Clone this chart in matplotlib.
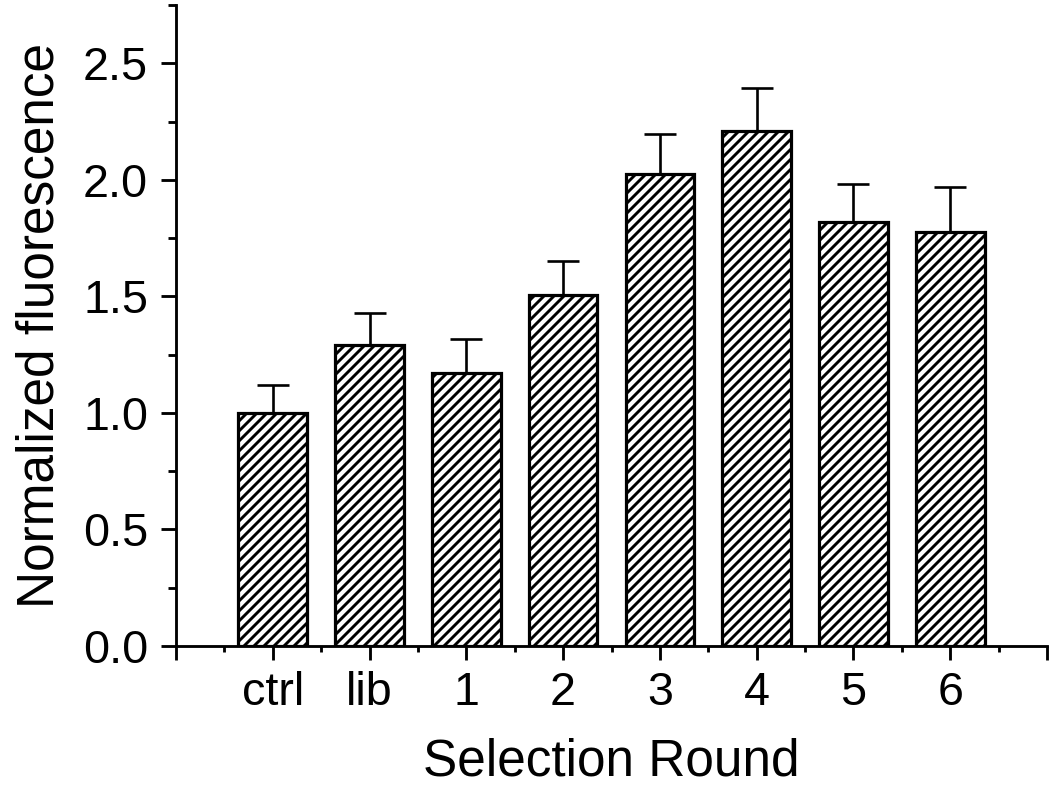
import matplotlib
matplotlib.use("Agg")
import matplotlib.pyplot as plt
from matplotlib.ticker import FixedLocator

categories = ["ctrl", "lib", "1", "2", "3", "4", "5", "6"]
values = [1.00, 1.29, 1.17, 1.505, 2.025, 2.21, 1.82, 1.775]
errors = [0.12, 0.14, 0.145, 0.145, 0.17, 0.185, 0.16, 0.195]

DPI = 90
S = 100.0 / DPI  # keep pixel sizes equal to a 100-dpi layout
plt.rcParams['font.family'] = ['Liberation Sans', 'DejaVu Sans']
plt.rcParams['hatch.linewidth'] = 2.1 * S

fig = plt.figure(figsize=(1050/DPI, 794/DPI), dpi=DPI)
ax = fig.add_axes([176/1050, 1-646/794, (1047-176)/1050, (646-5)/794])

x = list(range(1, len(categories)+1))
ax.bar(x, values, width=0.71, color='white', edgecolor='black', linewidth=2.3*S,
       hatch='///', zorder=2)
ax.errorbar(x, values, yerr=[[0]*len(errors), errors], fmt='none', ecolor='black',
            elinewidth=1.9*S, capsize=11.5*S, capthick=1.9*S, zorder=1)

ax.set_xlim(0, 9)
ax.set_ylim(0, 2.75)
ax.xaxis.set_major_locator(FixedLocator(list(range(0, 10))))
ax.set_xticklabels([""] + categories + [""])
ax.xaxis.set_minor_locator(FixedLocator([i + 0.5 for i in range(9)]))
ax.yaxis.set_major_locator(FixedLocator([0, 0.5, 1.0, 1.5, 2.0, 2.5]))
ax.yaxis.set_minor_locator(FixedLocator([0.25, 0.75, 1.25, 1.75, 2.25, 2.75]))
ax.set_yticklabels(["0.0", "0.5", "1.0", "1.5", "2.0", "2.5"])

for s in ['top', 'right']:
    ax.spines[s].set_visible(False)
for s in ['left', 'bottom']:
    ax.spines[s].set_linewidth(2.05*S)

ax.tick_params(axis='both', which='major', direction='out', width=2.05*S, labelsize=33.7*S)
ax.tick_params(axis='y', which='major', length=11*S, pad=9*S)
ax.tick_params(axis='y', which='minor', length=6*S, width=2.05*S)
ax.tick_params(axis='x', which='major', length=10*S, pad=8*S)
ax.tick_params(axis='x', which='minor', length=4*S, width=2.05*S)

ax.set_xlabel("Selection Round", fontsize=37*S, labelpad=16*S)
ax.set_ylabel("Normalized fluorescence", fontsize=37*S, labelpad=13*S)

fig.savefig("out.png", dpi=DPI)
